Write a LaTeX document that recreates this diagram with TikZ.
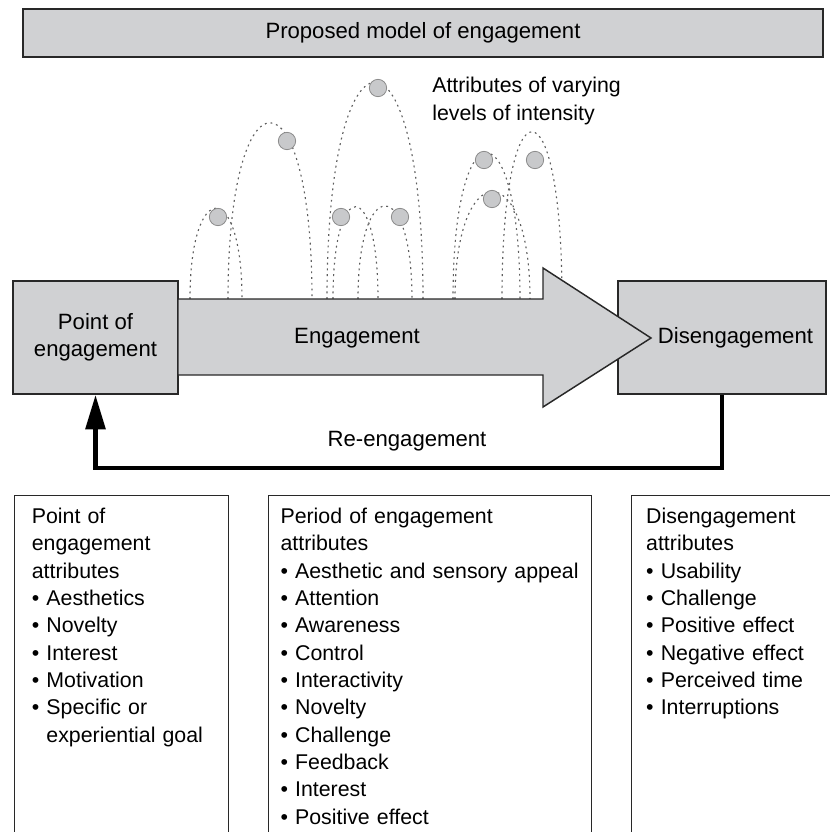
\documentclass[tikz,border=0pt]{standalone}
\usepackage{fontspec}
\setmainfont{Liberation Sans}
\usetikzlibrary{arrows.meta}

\definecolor{panel}{RGB}{208,209,211}
\definecolor{edge}{RGB}{40,40,40}
\definecolor{trailgray}{RGB}{95,95,95}
\definecolor{bubblefill}{RGB}{200,201,203}
\definecolor{bubbleedge}{RGB}{140,140,140}

\newcommand{\bitem}{\textbullet\ }
\newcommand{\bskip}{\phantom{\textbullet}\ }

\tikzset{
  stage/.style={draw=edge, fill=panel, line width=1.1pt, inner sep=0pt, align=center,
    font=\fontsize{16.6}{20.5}\selectfont},
  attrbox/.style={draw=edge, line width=0.8pt, fill=white, anchor=north west, align=left,
    inner xsep=9pt, inner ysep=9.4pt, text depth=300pt},
  bubble/.style={circle, draw=bubbleedge, fill=bubblefill, line width=0.6pt,
    minimum size=13pt, inner sep=0pt},
  trail/.style={draw=trailgray, line width=0.85pt, dash pattern=on 1.4pt off 2.9pt},
  reeng/.style={line width=3.7pt, -{Triangle[length=26pt,width=14.5pt]}}
}

\begin{document}
\begin{tikzpicture}[x=0.75pt, y=-0.75pt, font=\fontsize{16}{20.5}\selectfont]
\useasboundingbox (0,0) rectangle (830,832);
\clip (0,0) rectangle (830,832);

\node[stage, minimum width=600pt, minimum height=36pt] (title) at (423,33) {Proposed model of engagement};

% attribute trails
\draw[trail] (190,299) .. controls (190,178) and (242,178) .. (242,299);
\draw[trail] (228,299) .. controls (228,64) and (312,64) .. (312,299);
\draw[trail] (327,299) .. controls (327,10) and (423,10) .. (423,299);
\draw[trail] (333,299) .. controls (333,176) and (378,176) .. (378,299);
\draw[trail] (358,299) .. controls (358,175) and (412,175) .. (412,299);
\draw[trail] (453,299) .. controls (453,104) and (520,104) .. (520,299);
\draw[trail] (455,299) .. controls (455,156) and (530,156) .. (530,299);
\draw[trail] (502,299) .. controls (502,76) and (562,76) .. (562,299);

\node[bubble] (b1) at (218,217) {};
\node[bubble] (b2) at (287,141) {};
\node[bubble] (b3) at (378,88) {};
\node[bubble] (b4) at (341,217) {};
\node[bubble] (b5) at (400,217) {};
\node[bubble] (b6) at (484,160) {};
\node[bubble] (b7) at (492,199) {};
\node[bubble] (b8) at (535,160) {};

\node[align=left, anchor=west, inner sep=0pt] (intensity) at (432,101) {Attributes of varying\\levels of intensity};

\node[stage, minimum width=123.75pt, minimum height=84.75pt] (poe) at (95.5,337.5) {Point of\\engagement};
\node[stage, minimum width=156pt, minimum height=84.75pt, text width=136.5pt, align=right] (dis) at (722,337.5) {Disengagement};

\filldraw[draw=edge, fill=panel, line width=1.1pt] (178,299) -- (543,299) -- (543,268) -- (651,338)
  -- (543,407) -- (543,375) -- (178,375) -- cycle;
\node[font=\fontsize{16.6}{20.5}\selectfont] (engage) at (357,338) {Engagement};

\coordinate (turn) at (95.5,468);
\draw[reeng] (dis.south) |- (turn) -- (poe.south);
\node[font=\fontsize{16.6}{20.5}\selectfont] (reengage) at (407,441) {Re-engagement};

\node[attrbox, inner xsep=13pt, text width=134.5pt] (poeattr) at (14,495) {Point of\\engagement\\attributes\\
  \bitem Aesthetics\\\bitem Novelty\\\bitem Interest\\\bitem Motivation\\
  \bitem Specific or\\\bskip experiential goal};
\node[attrbox, text width=224.25pt] (periodattr) at (268,495) {Period of engagement\\attributes\\
  \bitem Aesthetic and sensory appeal\\\bitem Attention\\\bitem Awareness\\\bitem Control\\
  \bitem Interactivity\\\bitem Novelty\\\bitem Challenge\\\bitem Feedback\\\bitem Interest\\
  \bitem Positive effect};
\node[attrbox, inner xsep=11pt, text width=150pt] (disattr) at (631,495) {Disengagement\\attributes\\
  \bitem Usability\\\bitem Challenge\\\bitem Positive effect\\\bitem Negative effect\\
  \bitem Perceived time\\\bitem Interruptions};
\end{tikzpicture}
\end{document}
